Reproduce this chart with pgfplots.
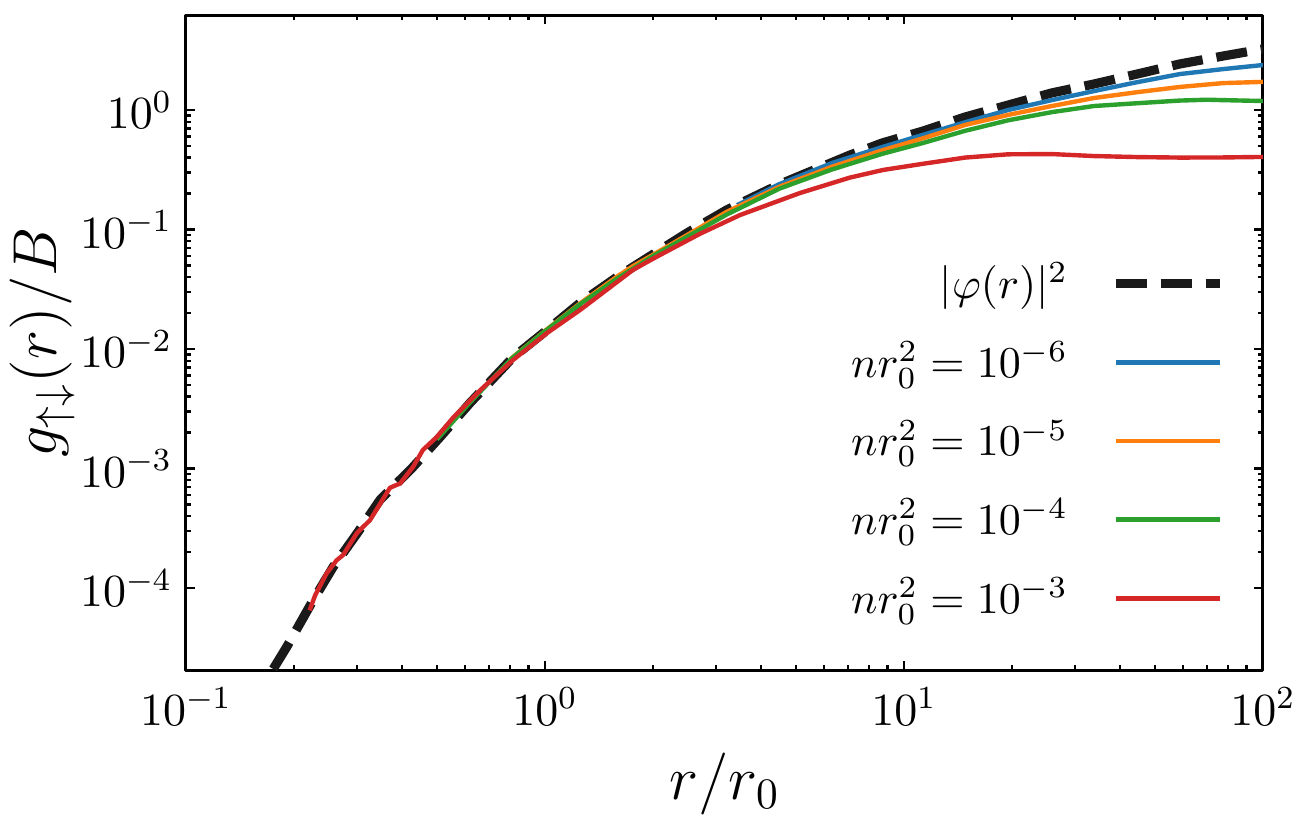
\RequirePackage{fix-cm}
\documentclass[border=0pt]{standalone}
\usepackage{pgfplots}
\pgfplotsset{compat=1.18}

\definecolor{tabblue}{HTML}{1F77B4}
\definecolor{taborange}{HTML}{FF7F0E}
\definecolor{tabgreen}{HTML}{2CA02C}
\definecolor{tabred}{HTML}{D62728}
\definecolor{wfblack}{HTML}{1A1A1A}

% two-body wave function |phi(r)|^2
\pgfplotstableread{
x y
0.175 2.1e-5
0.191 3.23e-5
0.226 7.9e-5
0.257 1.5e-4
0.300 2.88e-4
0.347 5.45e-4
0.429 1.03e-3
0.510 1.83e-3
0.618 3.53e-3
0.814 8.5e-3
1.013 1.44e-2
1.252 2.43e-2
1.587 4.0e-2
2.0 6.2e-2
2.486 9.35e-2
3.21 0.146
4.52 0.240
7.07 0.42
8.7 0.53
11.3 0.667
14.8 0.874
19.5 1.10
25.8 1.39
33.8 1.65
44.6 2.00
58.7 2.43
77.4 2.83
100 3.24
}\wavefn

% pair correlation, n r0^2 = 1e-6
\pgfplotstableread{
x y
3.43 0.160
4.5 0.240
6.3 0.360
8.7 0.49
11.3 0.62
14.8 0.79
19.5 1.00
25.8 1.21
33.8 1.44
44.6 1.71
58.7 2.00
77.4 2.20
100 2.38
}\gA

% n r0^2 = 1e-5
\pgfplotstableread{
x y
0.80 8.2e-3
1.0 1.42e-2
1.25 2.40e-2
1.59 4.05e-2
1.76 4.95e-2
2.0 6.15e-2
2.49 9.0e-2
3.2 0.140
4.5 0.228
6.3 0.335
8.7 0.46
11.3 0.58
14.8 0.75
19.5 0.91
25.8 1.08
33.8 1.26
44.6 1.41
58.7 1.56
77.4 1.68
100 1.72
}\gB

% n r0^2 = 1e-4
\pgfplotstableread{
x y
0.50 1.75e-3
0.62 3.6e-3
0.81 8.4e-3
1.0 1.41e-2
1.25 2.36e-2
1.59 3.9e-2
2.0 6.0e-2
2.49 8.7e-2
3.2 0.133
4.5 0.220
6.3 0.318
8.7 0.43
11.3 0.53
14.8 0.67
19.5 0.82
25.8 0.96
33.8 1.08
44.6 1.14
58.7 1.20
70 1.22
77.4 1.21
100 1.19
}\gC

% n r0^2 = 1e-3
\pgfplotstableread{
x y
0.221 6.5e-5
0.229 8.7e-5
0.2466 1.33e-4
0.263 1.71e-4
0.274 1.89e-4
0.299 2.87e-4
0.3256 3.7e-4
0.370 6.9e-4
0.395 7.5e-4
0.429 1.03e-3
0.457 1.43e-3
0.500 1.84e-3
0.554 2.65e-3
0.659 4.5e-3
0.815 8.1e-3
1.013 1.36e-2
1.252 2.12e-2
1.76 4.6e-2
2.0 5.7e-2
2.70 9.2e-2
3.49 0.132
5.13 0.202
7.07 0.272
8.74 0.315
11.3 0.355
14.8 0.400
19.5 0.426
25.8 0.428
33.8 0.412
44.6 0.404
58.7 0.400
77.4 0.401
100 0.405
}\gD

\begin{document}
\begin{tikzpicture}
\begin{axis}[
  name=ax,
  xmode=log, ymode=log,
  scale only axis,
  width=269.25pt, height=163.75pt,
  xmin=0.1, xmax=100,
  ymin=2.06e-5, ymax=6.24,
  xtick={0.1,1,10,100},
  ytick={1e-4,1e-3,1e-2,1e-1,1},
  tick align=inside,
  tick pos=both,
  major tick length=2.2pt,
  minor tick length=1.2pt,
  every tick/.style={black, line width=0.55pt},
  axis line style={line width=0.75pt},
  tick label style={font=\fontsize{11.5}{13}\selectfont},
  xticklabel style={yshift=-1pt},
  label style={font=\fontsize{15.5}{18}\selectfont},
  xlabel={$r/r_0$},
  ylabel={$g_{\uparrow\downarrow}(r)/B$},
  ylabel shift=-5.5pt,
  legend plot pos=right,
  legend cell align=right,
  legend image code/.code={\draw[#1] (0pt,0pt) -- (26pt,0pt);},
  legend style={
    draw=none, fill=none,
    at={(rel axis cs:1,0)}, anchor=south east,
    xshift=-6.5pt, yshift=8.5pt,
    font=\fontsize{11}{13}\selectfont,
    row sep=5.2pt, column sep=8.75pt,
  },
  line join=round,
]
\addplot[wfblack, line width=2.3pt, dash pattern=on 7.75pt off 3.5pt] table {\wavefn};
\addlegendentry{$|\varphi(r)|^2$}
\addplot[tabblue, line width=1.1pt] table {\gA};
\addlegendentry{$nr_0^2=10^{-6}$}
\addplot[taborange, line width=1.1pt] table {\gB};
\addlegendentry{$nr_0^2=10^{-5}$}
\addplot[tabgreen, line width=1.1pt] table {\gC};
\addlegendentry{$nr_0^2=10^{-4}$}
\addplot[tabred, line width=1.1pt] table {\gD};
\addlegendentry{$nr_0^2=10^{-3}$}
\end{axis}
\pgfresetboundingbox
\path (ax.south west) ++(-46.5pt,-36.25pt) rectangle ++(327pt,203.75pt);
\end{tikzpicture}
\end{document}
